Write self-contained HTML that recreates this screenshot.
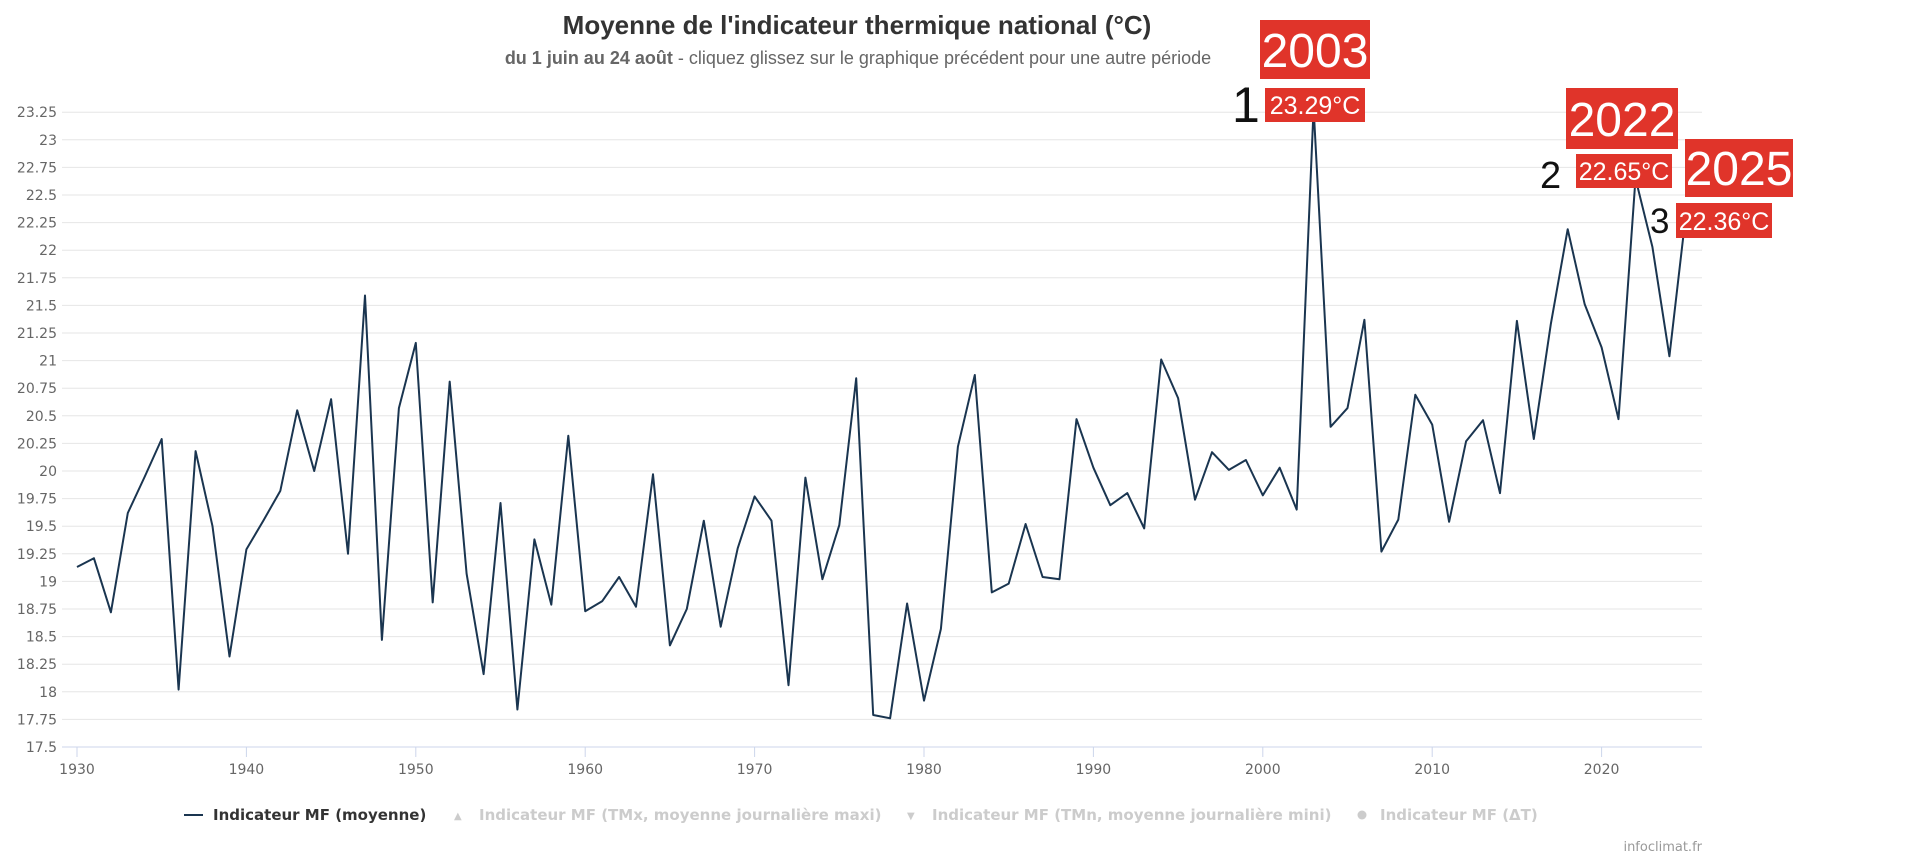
<!DOCTYPE html>
<html><head><meta charset="utf-8"><style>
html,body{margin:0;padding:0;background:#fff;width:1920px;height:858px;overflow:hidden}
svg{display:block}
</style></head><body>
<svg id="s" width="1920" height="858" xmlns="http://www.w3.org/2000/svg" font-family="Liberation Sans, sans-serif">
<text x="857" y="34" text-anchor="middle" font-size="26" font-weight="bold" fill="#333">Moyenne de l'indicateur thermique national (°C)</text>
<text x="858" y="64" text-anchor="middle" font-size="18" fill="#666"><tspan font-weight="bold">du 1 juin au 24 août</tspan> - cliquez glissez sur le graphique précédent pour une autre période</text>
<g id="grid"></g>
<g id="xl"></g>
<polyline id="line" fill="none" stroke="#1a3550" stroke-width="2" stroke-linejoin="round"/>
<g font-size="15" text-anchor="start" font-family="DejaVu Sans, sans-serif">
<line x1="184" y1="815" x2="203" y2="815" stroke="#1a3550" stroke-width="2"/>
<text x="213" y="820" font-weight="bold" fill="#333">Indicateur MF (moyenne)</text>
<text x="454" y="819" fill="#ccc" font-size="10">▲</text>
<text x="479" y="820" font-weight="bold" fill="#ccc">Indicateur MF (TMx, moyenne journalière maxi)</text>
<text x="907" y="819" fill="#ccc" font-size="10">▼</text>
<text x="932" y="820" font-weight="bold" fill="#ccc">Indicateur MF (TMn, moyenne journalière mini)</text>
<circle cx="1362" cy="815" r="4.5" fill="#ccc"/>
<text x="1380" y="820" font-weight="bold" fill="#ccc">Indicateur MF (ΔT)</text>
</g>
<text x="1702" y="851" text-anchor="end" font-size="13" fill="#999" font-family="DejaVu Sans, sans-serif">infoclimat.fr</text>
<rect x="1260" y="20" width="110" height="59" fill="#e0342a"/>
<text x="1315" y="67" text-anchor="middle" font-size="48" fill="#fff">2003</text>
<rect x="1265" y="88" width="100" height="34" fill="#e0342a"/>
<text x="1315" y="114" text-anchor="middle" font-size="25" fill="#fff">23.29°C</text>
<text x="1232" y="122" font-size="50" fill="#111">1</text>
<rect x="1566" y="88" width="112" height="61" fill="#e0342a"/>
<text x="1622" y="136" text-anchor="middle" font-size="48" fill="#fff">2022</text>
<rect x="1576" y="154" width="96" height="34" fill="#e0342a"/>
<text x="1624" y="180" text-anchor="middle" font-size="25" fill="#fff">22.65°C</text>
<text x="1540" y="188" font-size="38" fill="#111">2</text>
<rect x="1685" y="139" width="108" height="58" fill="#e0342a"/>
<text x="1739" y="185" text-anchor="middle" font-size="48" fill="#fff">2025</text>
<rect x="1676" y="203" width="96" height="35" fill="#e0342a"/>
<text x="1724" y="230" text-anchor="middle" font-size="25" fill="#fff">22.36°C</text>
<text x="1650" y="233" font-size="35" fill="#111">3</text>
</svg>
<script>
var v=[19.13,19.21,18.72,19.62,19.95,20.29,18.02,20.18,19.50,18.32,19.29,19.55,19.82,20.55,20.00,20.65,19.25,21.59,18.47,20.57,21.16,18.81,20.81,19.07,18.16,19.71,17.84,19.38,18.79,20.32,18.73,18.82,19.04,18.77,19.97,18.42,18.75,19.55,18.59,19.30,19.77,19.55,18.06,19.94,19.02,19.51,20.84,17.79,17.76,18.80,17.92,18.57,20.22,20.87,18.90,18.98,19.52,19.04,19.02,20.47,20.03,19.69,19.80,19.48,21.01,20.66,19.74,20.17,20.01,20.10,19.78,20.03,19.65,23.29,20.40,20.57,21.37,19.27,19.56,20.69,20.42,19.54,20.27,20.46,19.80,21.36,20.29,21.33,22.19,21.51,21.12,20.47,22.65,22.03,21.04,22.36];
function X(y){return 77+(y-1930)*16.94}
function Y(t){return 747-(t-17.5)/0.25*27.6}
var NS="http://www.w3.org/2000/svg";
function el(n,a,p,txt){var e=document.createElementNS(NS,n);for(var k in a)e.setAttribute(k,a[k]);if(txt!=null)e.textContent=txt;p.appendChild(e);return e}
var g=document.getElementById('grid');
for(var i=0;i<=23;i++){var t=17.5+i*0.25,y=Y(t);
 el('line',{x1:62,x2:1702,y1:y,y2:y,stroke:i==0?'#ccd6eb':'#e6e6e6','stroke-width':1},g);
 el('text',{x:57,y:y+5,'text-anchor':'end','font-size':14,fill:'#666','font-family':'DejaVu Sans, sans-serif'},g,String(+t.toFixed(2)));}
var xl=document.getElementById('xl');
for(var yr=1930;yr<=2020;yr+=10){var x=X(yr);
 el('line',{x1:x,x2:x,y1:747,y2:757,stroke:'#ccd6eb'},xl);
 el('text',{x:x,y:774,'text-anchor':'middle','font-size':14,fill:'#666','font-family':'DejaVu Sans, sans-serif'},xl,String(yr));}
document.getElementById('line').setAttribute('points',v.map(function(t,i){return X(1930+i).toFixed(1)+','+Y(t).toFixed(1)}).join(' '));
</script>
</body></html>
